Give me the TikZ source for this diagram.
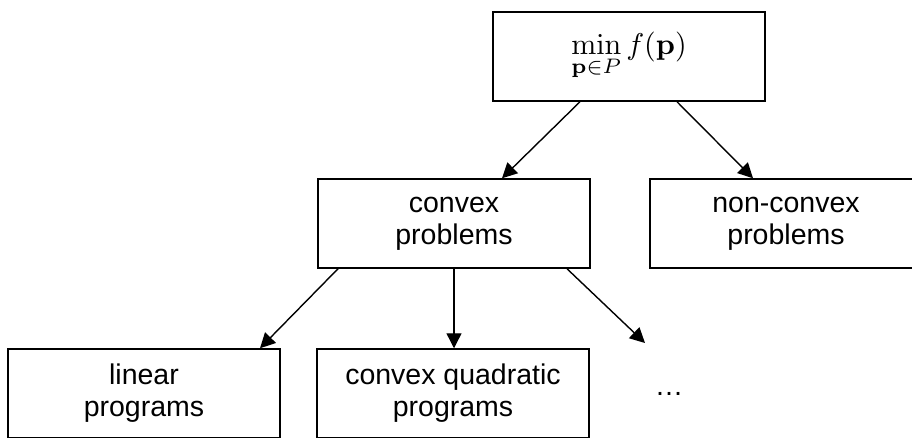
\documentclass[tikz,border=0pt]{standalone}
\usepackage[no-math]{fontspec}
\setmainfont{Liberation Sans}
\usetikzlibrary{arrows.meta}
\tikzset{
  box/.style={draw=black, line width=1.5pt, minimum width=272pt, minimum height=89pt,
    inner sep=0pt, align=center, font=\fontsize{28.5}{32}\selectfont},
  conn/.style={line width=1.4pt, -{Triangle[length=15pt,width=15pt]}}
}
\begin{document}
\begin{tikzpicture}[x=1pt,y=-1pt]
\clip (0,0) rectangle (912,437);
\fill[white] (0,0) rectangle (912,437);
\node[box] (top) at (629,56.5) {\normalsize\scalebox{3.0}{$\displaystyle\min_{\mathbf{p}\in P} f(\mathbf{p})$}};
\node[box] (convex) at (454,223.5) {convex\\problems};
\node[box] (nonconvex) at (786,223.5) {non-convex\\problems};
\node[box] (linear) at (144,393.5) {linear\\programs};
\node[box] (quad) at (453,393.5) {convex quadratic\\programs};
\node[font=\fontsize{28.5}{32}\selectfont] (dots) at (669,394) {\ldots};
\coordinate (dotsin) at (645,343);
\draw[conn] (top.south -| 580,0) -- (convex.north -| 502,0);
\draw[conn] (top.south -| 677,0) -- (nonconvex.north -| 753,0);
\draw[conn] (convex.south -| 338,0) -- (linear.north -| 260,0);
\draw[conn] (convex.south -| 454,0) -- (quad.north -| 454,0);
\draw[conn] (convex.south -| 567,0) -- (dotsin);
\end{tikzpicture}
\end{document}
